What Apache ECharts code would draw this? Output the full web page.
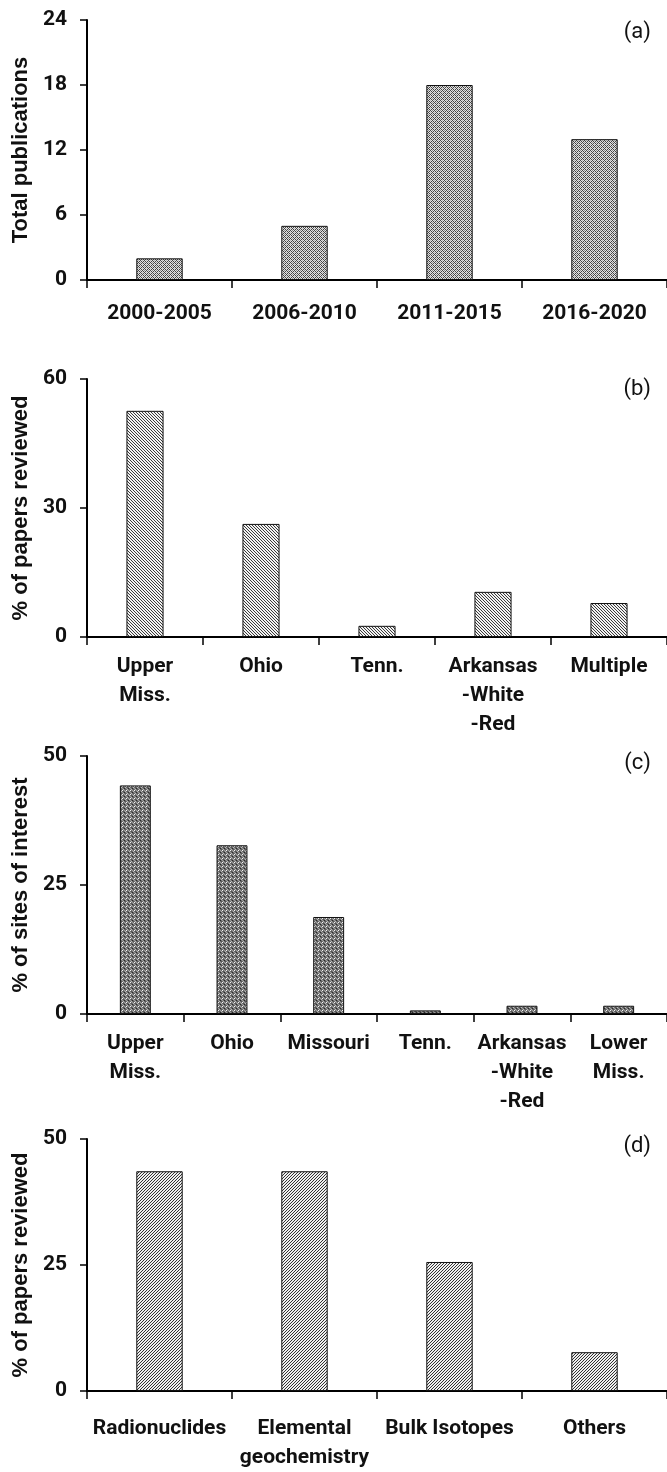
<!DOCTYPE html>
<html>
<head>
<meta charset="utf-8">
<script src="https://cdn.jsdelivr.net/npm/echarts@6/dist/echarts.min.js"></script>
<style>
html,body{margin:0;padding:0;background:#fff;}
#chart{width:667px;height:1472px;}
</style>
</head>
<body>
<div id="chart"></div>
<script>
// ---- data ----
var periodCats = ['2000-2005', '2006-2010', '2011-2015', '2016-2020'];
var pubCounts = [2, 5, 18, 13];

var basinCatsB = ['Upper\nMiss.', 'Ohio', 'Tenn.', 'Arkansas\n-White\n-Red', 'Multiple'];
var papersByBasin = [52.6, 26.3, 2.6, 10.5, 7.9];

var basinCatsC = ['Upper\nMiss.', 'Ohio', 'Missouri', 'Tenn.', 'Arkansas\n-White\n-Red', 'Lower\nMiss.'];
var sitesByBasin = [44.3, 32.7, 18.8, 0.7, 1.6, 1.6];

var methodCats = ['Radionuclides', 'Elemental\ngeochemistry', 'Bulk Isotopes', 'Others'];
var papersByMethod = [43.6, 43.6, 25.6, 7.7];

var yTicksA = {min: 0, max: 24, interval: 6};
var yTicksB = {min: 0, max: 60, interval: 30};
var yTicksC = {min: 0, max: 50, interval: 25};
var yTicksD = {min: 0, max: 50, interval: 25};

var yTitles = ['Total publications', '% of papers reviewed', '% of sites of interest', '% of papers reviewed'];
var panelTags = ['(a)', '(b)', '(c)', '(d)'];

// ---- patterns ----
function makeTile(size, painter) {
  var c = document.createElement('canvas');
  c.width = size; c.height = size;
  var ctx = c.getContext('2d');
  painter(ctx, size);
  return c;
}
function px(ctx, x, y, col) { ctx.fillStyle = col; ctx.fillRect(x, y, 1, 1); }

var patA = makeTile(4, function (ctx, n) {
  for (var y = 0; y < n; y++) for (var x = 0; x < n; x++) {
    px(ctx, x, y, ((x + y) % 2 === 0) ? '#444' : '#e2e2e2');
  }
  px(ctx, 0, 2, '#8a8a8a');
  px(ctx, 2, 0, '#b0b0b0');
});
var patB = makeTile(3, function (ctx, n) {
  ctx.fillStyle = '#f2f2f2'; ctx.fillRect(0, 0, n, n);
  for (var i = 0; i < n; i++) px(ctx, i, i, '#3a3a3a');
});
var patC = makeTile(4, function (ctx, n) {
  ctx.fillStyle = '#6e6e6e'; ctx.fillRect(0, 0, n, n);
  px(ctx, 0, 0, '#2a2a2a'); px(ctx, 2, 0, '#9a9a9a');
  px(ctx, 0, 2, '#9a9a9a'); px(ctx, 2, 2, '#f4f4f4');
  px(ctx, 1, 1, '#555'); px(ctx, 3, 3, '#555');
  px(ctx, 1, 3, '#bbb'); px(ctx, 3, 1, '#bbb');
});
var patD = makeTile(3, function (ctx, n) {
  ctx.fillStyle = '#f0f0f0'; ctx.fillRect(0, 0, n, n);
  for (var i = 0; i < n; i++) px(ctx, i, n - 1 - i, '#333');
});

// ---- layout ----
var gridTops = [20, 379, 756, 1139];
var gridH = [260, 258, 258, 258];
var labelMargins = [19, 15, 15, 23];
var tagTops = [21, 378, 752, 1135];
var LABEL_FONT = 'Roboto, "Open Sans", sans-serif';
var TITLE_FONT = '"Liberation Sans", Arial, sans-serif';

var cats = [periodCats, basinCatsB, basinCatsC, methodCats];
var vals = [pubCounts, papersByBasin, sitesByBasin, papersByMethod];
var yTicks = [yTicksA, yTicksB, yTicksC, yTicksD];
var pats = [patA, patB, patC, patD];

var grids = [], xAxes = [], yAxes = [], series = [], graphics = [];
for (var i = 0; i < 4; i++) {
  grids.push({left: 87, right: 0, top: gridTops[i], height: gridH[i], containLabel: false});
  xAxes.push({
    type: 'category', gridIndex: i, data: cats[i],
    axisLine: {show: true, lineStyle: {color: '#000', width: 2}},
    axisTick: {show: true, length: 8, lineStyle: {color: '#000', width: 1.5}},
    axisLabel: {color: '#111', fontFamily: LABEL_FONT, fontWeight: 'bold', fontSize: 21,
      lineHeight: 29, margin: labelMargins[i], interval: 0},
    splitLine: {show: false}
  });
  yAxes.push({
    type: 'value', gridIndex: i, min: yTicks[i].min, max: yTicks[i].max, interval: yTicks[i].interval,
    name: yTitles[i], nameLocation: 'middle', nameGap: 49, nameRotate: 90,
    nameTextStyle: {color: '#111', fontFamily: TITLE_FONT, fontWeight: 'bold', fontSize: 22},
    axisLine: {show: true, lineStyle: {color: '#000', width: 2}},
    axisTick: {show: true, length: 7, lineStyle: {color: '#000', width: 1.5}},
    axisLabel: {color: '#111', fontFamily: LABEL_FONT, fontWeight: 'bold', fontSize: 21, margin: 20},
    splitLine: {show: false}
  });
  series.push({
    type: 'bar', xAxisIndex: i, yAxisIndex: i, data: vals[i], barWidth: '32%',
    itemStyle: {color: {image: pats[i], repeat: 'repeat'}, borderColor: '#111', borderWidth: 1},
    silent: true, animation: false
  });
  graphics.push({
    type: 'text', right: 16, top: tagTops[i],
    style: {text: panelTags[i], font: '22px "Liberation Sans Narrow", Roboto, sans-serif', fill: '#111'}
  });
}

var chart = echarts.init(document.getElementById('chart'), null, {renderer: 'canvas'});
chart.setOption({
  animation: false,
  backgroundColor: '#fff',
  grid: grids, xAxis: xAxes, yAxis: yAxes, series: series,
  graphic: graphics
});
</script>
</body>
</html>
